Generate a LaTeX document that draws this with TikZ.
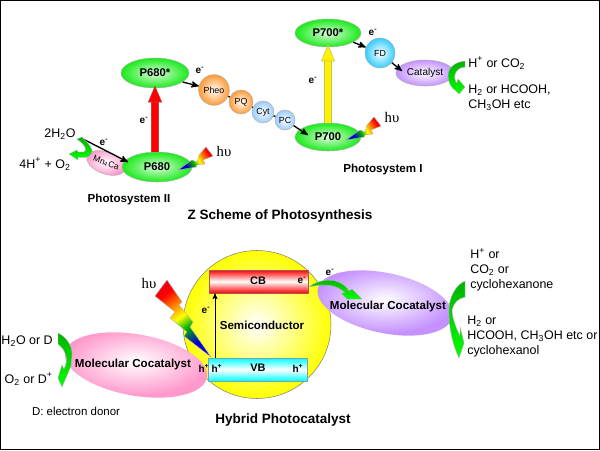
\documentclass[tikz,border=0pt]{standalone}
\usepackage{fontspec}
\setmainfont{Liberation Sans}
\newfontfamily\hvfont{Liberation Serif}
\usetikzlibrary{shapes.geometric,arrows,arrows.meta,positioning}
\definecolor{leaf}{RGB}{25,235,25}
\definecolor{peel}{RGB}{255,153,51}
\definecolor{sky}{RGB}{153,204,255}
\definecolor{aqua}{RGB}{51,204,255}
\definecolor{lilac}{RGB}{196,145,255}
\definecolor{rose}{RGB}{255,153,204}
\pgfdeclareradialshading{rimgreen}{\pgfpoint{0bp}{0bp}}{color(0bp)=(leaf!15!white); color(25bp)=(leaf); color(50bp)=(leaf)}
\pgfdeclareradialshading{rimorange}{\pgfpoint{0bp}{0bp}}{color(0bp)=(white); color(25bp)=(peel); color(50bp)=(peel)}
\pgfdeclareradialshading{rimblue}{\pgfpoint{0bp}{0bp}}{color(0bp)=(white); color(25bp)=(sky); color(50bp)=(sky)}
\pgfdeclareradialshading{rimcyan}{\pgfpoint{0bp}{0bp}}{color(0bp)=(white); color(25bp)=(aqua); color(50bp)=(aqua)}
\pgfdeclareradialshading{rimpurple}{\pgfpoint{0bp}{0bp}}{color(0bp)=(white); color(25bp)=(lilac); color(50bp)=(lilac)}
\pgfdeclareradialshading{rimpink}{\pgfpoint{0bp}{0bp}}{color(0bp)=(white); color(25bp)=(rose); color(50bp)=(rose)}
\pgfdeclareradialshading{rimyellow}{\pgfpoint{0bp}{0bp}}{color(0bp)=(white); color(25bp)=(yellow); color(50bp)=(yellow)}
\pgfdeclareverticalshading{boltcolors}{100bp}{color(0bp)=(blue!80!black); color(30bp)=(blue!80!black); color(43bp)=(green!70!black); color(52bp)=(yellow); color(62bp)=(orange); color(72bp)=(red); color(100bp)=(purple)}
\tikzset{
	pigment/.style={ellipse, draw=gray!60, inner sep=0pt, shading=rimgreen, font=\fontsize{8.4}{10}\selectfont\bfseries},
	carrier/.style={circle, draw=gray!60, inner sep=0pt, minimum size=#1, font=\fontsize{6.6}{8}\selectfont},
	blob/.style={ellipse, draw=none, inner sep=0pt},
	band/.style={rectangle, draw=gray!70!#1, inner sep=0pt, minimum width=74.25pt, minimum height=17.25pt, top color=#1, bottom color=#1, middle color=white},
	txt/.style={inner sep=0pt, align=left, font=\fontsize{9.35}{11.25}\selectfont},
	boldtxt/.style={inner sep=0pt, font=\fontsize{8.7}{10}\selectfont\bfseries},
	small/.style={inner sep=0pt, font=\fontsize{7.5}{9}\selectfont\bfseries},
	hv/.style={inner sep=0pt, font=\fontsize{11}{12}\selectfont\hvfont},
	flow/.style={->,>=stealth', line width=1pt},
	blockarrow/.style={draw=gray!50!#1, line width=.4pt, double=#1, double distance=5pt, shorten >=-2pt, -{Triangle[length=12.5pt,width=10.5pt,fill=#1]}},
	turn/.style={draw=gray!60, line width=.3pt, top color=green!70!black, bottom color=green},
	bolt/.style={draw=gray!60, line width=.3pt, shading=boltcolors, shading angle=#1}
}
\newcommand\up[1]{\textsuperscript{#1}}
\newcommand\dn[1]{\textsubscript{#1}}
\begin{document}
\begin{tikzpicture}[x=0.75pt,y=-0.75pt]
\useasboundingbox (0,0) rectangle (600,450);
\draw[line width=.75pt] (0.5,0.5) rectangle (599.5,449.5);

% upper scheme
\node[pigment, minimum width=51pt, minimum height=22.5pt] (p680star) at (155,73) {P680*};
\node[ellipse, draw=gray!60, inner sep=0pt, minimum width=30pt, minimum height=16.5pt, shading=rimpink, rotate=-20, font=\fontsize{6.4}{8}\selectfont] (mnca) at (106,163) {Mn\dn{4}Ca};
\node[pigment, minimum width=52.5pt, minimum height=22.5pt] (p680) at (157,167) {P680};
\node[pigment, minimum width=49.5pt, minimum height=21pt] (p700star) at (328,33) {P700*};
\node[pigment, minimum width=49.5pt, minimum height=21pt] (p700) at (328,137) {P700};
\node[carrier=23pt, shading=rimorange] (pheo) at (214,90) {Pheo};
\node[carrier=18pt, shading=rimorange] (pq) at (241,102) {PQ};
\node[carrier=16.5pt, shading=rimblue] (cyt) at (263,112) {Cyt};
\node[carrier=15pt, shading=rimblue] (pc) at (285,120) {PC};
\node[carrier=22.5pt, shading=rimcyan] (fd) at (380,53) {FD};
\node[ellipse, draw=gray!60, inner sep=0pt, minimum width=43.5pt, minimum height=19.5pt, shading=rimpurple, font=\fontsize{7.5}{9}\selectfont] (catalyst) at (425,73) {Catalyst};

\node[txt] (water) at (60,134) {2H\dn{2}O};
\node[txt] (oxygen) at (45,164) {4H\up{+} + O\dn{2}};
\node[small] (e1) at (104,142) {e\up{-}};
\node[small] (e2) at (144,120) {e\up{-}};
\node[small] (e3) at (200,70) {e\up{-}};
\node[small] (e4) at (313,80) {e\up{-}};
\node[small] (e5) at (373,32) {e\up{-}};
\node[hv] (hv1) at (224,151) {hυ};
\node[hv] (hv2) at (392,117) {hυ};
\node[txt, anchor=west] (protons) at (468,63) {H\up{+} or CO\dn{2}};
\node[txt, anchor=west] (fuels) at (468,97.5) {H\dn{2} or HCOOH,\\CH\dn{3}OH etc};
\node[boldtxt] (psii) at (129,199) {Photosystem II};
\node[boldtxt] (psi) at (383,169) {Photosystem I};
\node[inner sep=0pt, font=\fontsize{10.15}{12}\selectfont\bfseries] (ztitle) at (280,216) {Z Scheme of Photosynthesis};

\coordinate (p700in) at (308,135);
\coordinate (catin) at (402,71);
\coordinate (p680in) at (128,162);
\coordinate (wstart) at (81,138);
\draw[blockarrow=red] (p680star.south |- p680.north) -- (p680star.south);
\draw[blockarrow=yellow] (p700) -- (p700star);
\draw[flow] (wstart) -- (p680in);
\draw[flow] (p680star.-18) -- (pheo);
\draw[line width=1pt] (pheo) -- (pq);
\draw[line width=1pt] (pq) -- (cyt);
\draw[line width=1pt] (cyt) -- (pc);
\draw[flow] (pc) -- (p700in);
\draw[flow] (p700star.-20) -- (fd);
\draw[flow] (fd) -- (catin);

\foreach \dx/\dy in {0/0,168/-30}{
	\draw[bolt=-58, shift={(\dx,\dy)}] (178,170) -- (192,160) -- (197,162) -- (199,155) -- (206,147) -- (213,156) -- (203,160) -- (205,164) -- (197,165) -- (196,167) -- cycle;
}
\draw[turn] (77,139) .. controls (85,145) and (88,150) .. (84,152) -- (78,152) -- (77,150) -- (69,154) -- (78,160) -- (78,157) .. controls (88,159) and (93,155) .. (92,150) .. controls (90,145) and (86,141) .. (82,137) -- cycle;
\draw[turn] (465,61) .. controls (455,62) and (448,68) .. (448,75) .. controls (448,82) and (451,88) .. (456,91) -- (459,94) -- (465,87) -- (458,79) -- (457,83) .. controls (453,80) and (453,68) .. (465,67) -- cycle;

% lower scheme
\node[circle, draw=gray, inner sep=0pt, minimum size=111pt, shading=rimyellow] (semi) at (257,324.5) {};
\node[blob, minimum width=108pt, minimum height=46pt, rotate=-10, shading=rimpink] (pinkcat) at (136,365) {};
\node[blob, minimum width=103pt, minimum height=45pt, rotate=-12, shading=rimpurple] (purplecat) at (385,303) {};
\node[band=red] (cb) at (258.5,281.5) {};
\node[band=cyan] (vb) at (258,369.5) {};
\node[boldtxt, font=\fontsize{8.2}{10}\selectfont\bfseries] (cbtxt) at (258,281) {CB};
\node[boldtxt, font=\fontsize{8.2}{10}\selectfont\bfseries] (vbtxt) at (258,368) {VB};
\node[small] (ecb) at (302,280) {e\up{-}};
\node[small] (hvb1) at (217,368) {h\up{+}};
\node[small] (hvb2) at (298,368) {h\up{+}};
\node[small] (hout) at (204,368) {h\up{+}};
\node[small] (e6) at (206,310) {e\up{-}};
\node[small] (e7) at (330,272) {e\up{-}};
\node[boldtxt] (semitxt) at (262,325) {Semiconductor};
\node[boldtxt] (pinktxt) at (133,364) {Molecular Cocatalyst};
\node[boldtxt] (purpletxt) at (388,306) {Molecular Cocatalyst};
\node[hv] (hv3) at (149,283) {hυ};
\node[txt, anchor=east] (h2od) at (53,341) {H\dn{2}O or D};
\node[txt, anchor=east] (o2d) at (53,379) {O\dn{2} or D\up{+}};
\node[inner sep=0pt, font=\fontsize{8.6}{10}\selectfont] (donor) at (76,411) {D: electron donor};
\node[txt, anchor=west] (substrates) at (470,270) {H\up{+} or\\CO\dn{2} or\\cyclohexanone};
\node[txt, anchor=west] (products) at (467,336.5) {H\dn{2} or\\HCOOH, CH\dn{3}OH etc or\\cyclohexanol};
\node[inner sep=0pt, font=\fontsize{10.15}{12}\selectfont\bfseries] (htitle) at (283,420) {Hybrid Photocatalyst};

\coordinate (vbstart) at (215,358);
\draw[->,>=stealth',line width=.6pt] (vbstart) -- (vbstart |- cb.south);
\draw[bolt=35] (167,280) -- (182,302) -- (179,305) -- (193,322) -- (190,327) -- (211,357) -- (184,336) -- (187,332) -- (170,318) -- (175,312) -- (155,296) -- cycle;
\draw[turn] (309,287) .. controls (316,281) and (330,278) .. (338,282) .. controls (343,284) and (347,287) .. (349,291) -- (352,289) -- (362,299) -- (347,299) -- (341,293) -- (345,293) .. controls (338,285) and (325,283) .. (309,287) -- cycle;
\draw[turn] (465,281) .. controls (456,285) and (449,297) .. (449,310) .. controls (449,330) and (453,345) .. (459,358) -- (464,343) -- (460,327) -- (460,336) .. controls (456,328) and (452,318) .. (452,310) .. controls (453,304) and (458,298) .. (465,297) -- cycle;
\draw[turn] (58,333) .. controls (66,337) and (72,345) .. (72,354) .. controls (72,358) and (71,364) .. (71,366) -- (62,387) -- (58,378) -- (62,365) -- (64,369) .. controls (69,360) and (66,350) .. (58,344) -- cycle;
\end{tikzpicture}
\end{document}
